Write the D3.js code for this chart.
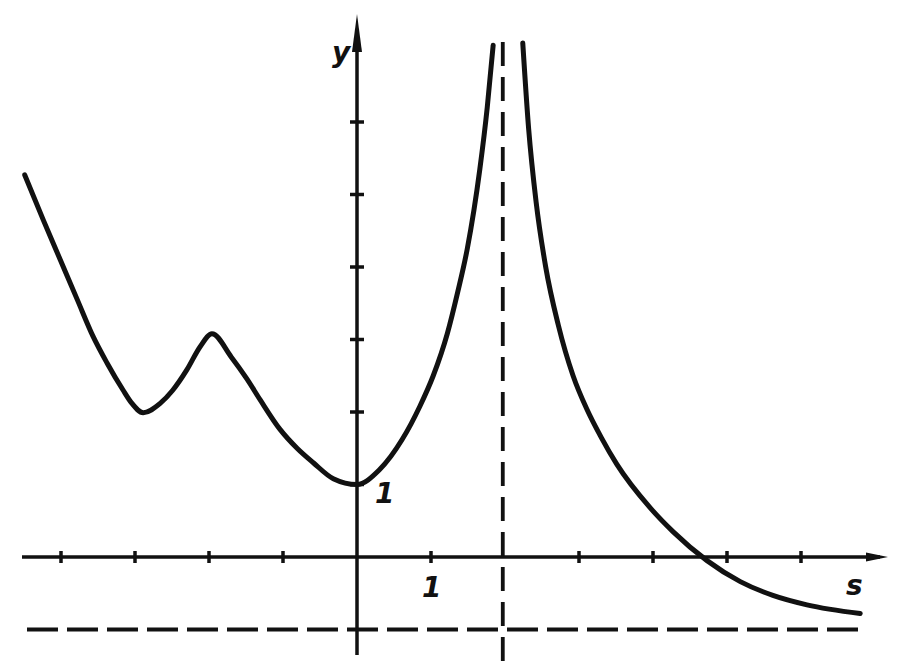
<!DOCTYPE html>
<html>
<head>
<meta charset="utf-8">
<script src="https://cdn.jsdelivr.net/npm/d3@7"></script>
<style>
  html, body { margin: 0; padding: 0; background: #fff; }
  svg { display: block; }
</style>
</head>
<body>
<svg id="chart" width="904" height="667"></svg>
<script>
// ---- data ----
const leftS  = [-4.49, -4.24, -4.01, -3.78, -3.57, -3.38, -3.16, -3.05, -2.89, -2.66, -2.49, -2.30, -2.12, -1.96, -1.70, -1.49, -1.31, -1.04, -0.81, -0.59, -0.32, 0, 0.30, 0.61, 0.85, 1.03, 1.22, 1.36, 1.49, 1.66, 1.76, 1.84];
const leftY  = [5.27, 4.65, 4.10, 3.55, 3.05, 2.68, 2.30, 2.13, 1.99, 2.12, 2.30, 2.58, 2.90, 3.08, 2.76, 2.46, 2.17, 1.76, 1.50, 1.30, 1.08, 1.00, 1.20, 1.62, 2.08, 2.50, 3.08, 3.65, 4.25, 5.35, 6.20, 7.06];
const rightS = [2.24, 2.32, 2.42, 2.55, 2.72, 2.92, 3.11, 3.30, 3.51, 3.96, 4.27, 4.73, 5.18, 5.62, 6.08, 6.80];
const rightY = [7.09, 5.90, 4.90, 4.00, 3.20, 2.50, 2.03, 1.65, 1.28, 0.68, 0.35, -0.05, -0.34, -0.53, -0.66, -0.78];
const xTicks = [-4, -3, -2, -1, 1, 3, 4, 5, 6];
const yTicks = [1, 2, 3, 4, 5, 6];
const verticalAsymptote = 1.97;
const horizontalAsymptote = -1;
const xLabel = "s", yLabel = "y", unitLabel = "1";

// ---- scales ----
const svg = d3.select("#chart");
const x = d3.scaleLinear().domain([-4.5, 7]).range([357 - 4.5 * 74, 357 + 7 * 74]);
const y = d3.scaleLinear().domain([-1.5, 7.5]).range([557 + 1.5 * 72.5, 557 - 7.5 * 72.5]);
const ink = "#111";

const x0 = x(0), y0 = y(0);

// x axis
svg.append("line").attr("x1", 22).attr("x2", 880).attr("y1", y0).attr("y2", y0)
  .attr("stroke", ink).attr("stroke-width", 3.5);
svg.append("path").attr("d", `M888,${y0} L866,${y0 - 4.5} L866,${y0 + 4.5} Z`).attr("fill", ink);
svg.selectAll(".xt").data(xTicks).enter().append("line")
  .attr("x1", d => x(d)).attr("x2", d => x(d)).attr("y1", y0 - 6).attr("y2", y0 + 6)
  .attr("stroke", ink).attr("stroke-width", 3.5);

// y axis
svg.append("line").attr("x1", x0).attr("x2", x0).attr("y1", 30).attr("y2", 655)
  .attr("stroke", ink).attr("stroke-width", 3.5);
svg.append("path").attr("d", `M${x0},14 L${x0 - 5},52 L${x0 + 5},52 Z`).attr("fill", ink);
svg.selectAll(".yt").data(yTicks).enter().append("line")
  .attr("x1", x0 - 7).attr("x2", x0 + 7).attr("y1", d => y(d)).attr("y2", d => y(d))
  .attr("stroke", ink).attr("stroke-width", 3.5);

// asymptotes
svg.append("line").attr("x1", x(verticalAsymptote)).attr("x2", x(verticalAsymptote))
  .attr("y1", 42).attr("y2", 667)
  .attr("stroke", ink).attr("stroke-width", 3.8).attr("stroke-dasharray", "24,11");
svg.append("line").attr("x1", 27).attr("x2", 866)
  .attr("y1", y(horizontalAsymptote)).attr("y2", y(horizontalAsymptote))
  .attr("stroke", ink).attr("stroke-width", 3.8).attr("stroke-dasharray", "31,9");

// curve
const line = d3.line().x(d => x(d[0])).y(d => y(d[1])).curve(d3.curveMonotoneX);
[[leftS, leftY], [rightS, rightY]].forEach(([sx, sy]) => {
  svg.append("path").datum(d3.zip(sx, sy)).attr("d", line)
    .attr("fill", "none").attr("stroke", ink).attr("stroke-width", 5)
    .attr("stroke-linecap", "round").attr("stroke-linejoin", "round");
});

// labels
const font = "'DejaVu Sans', sans-serif";
function label(tx, ty, t) {
  svg.append("text").attr("x", tx).attr("y", ty).text(t)
    .attr("font-family", font).attr("font-style", "italic").attr("font-weight", "bold")
    .attr("font-size", 28).attr("fill", ink);
}
label(x0 - 25, 62, yLabel);
label(846, 595, xLabel);
label(x(1) - 9, 597, unitLabel);
label(x0 + 18, 503, unitLabel);
</script>
</body>
</html>
